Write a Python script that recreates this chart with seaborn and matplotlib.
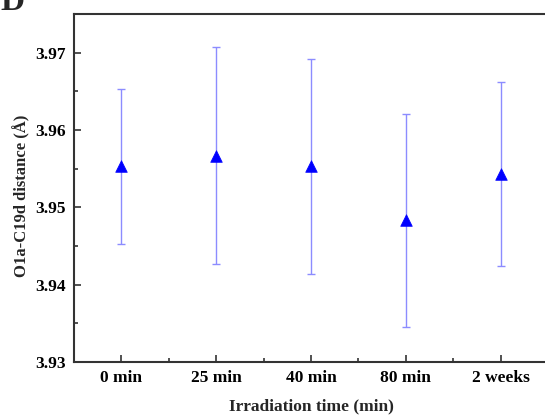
import matplotlib
matplotlib.use("Agg")
import matplotlib.pyplot as plt
import seaborn as sns
import pandas as pd
from matplotlib.ticker import MultipleLocator

categories = ["0 min", "25 min", "40 min", "80 min", "2 weeks"]
distance = [3.9553, 3.9567, 3.9553, 3.9483, 3.9543]
err = [0.0100, 0.0140, 0.0139, 0.0138, 0.0119]

sns.set_theme(style="ticks")
plt.rcParams['font.family'] = ['Liberation Serif', 'DejaVu Serif']
plt.rcParams['font.weight'] = 'bold'

df = pd.DataFrame({"time": categories, "dist": distance, "err": err})

fig = plt.figure(figsize=(5.45, 4.19), dpi=100)
ax = fig.add_axes([74/545, (419-362)/419, (548-74)/545, (362-14)/419])

ax.errorbar(range(len(categories)), df["dist"], yerr=df["err"], fmt="none",
            ecolor="#8c8cff", elinewidth=1.0, capsize=3, capthick=1.0, zorder=2)
sns.scatterplot(data=df, x="time", y="dist", marker="^", s=70, color="#0000ff",
                edgecolor="#0000ff", linewidth=0.5, ax=ax, zorder=3)

fs = 12.5
ax.set_xlim(-0.5, 4.5)
ax.set_ylim(3.93, 3.975)
ax.yaxis.set_major_locator(MultipleLocator(0.01))
ax.yaxis.set_minor_locator(MultipleLocator(0.005))
ax.set_xticks(range(len(categories)))
ax.set_xticks([i + 0.5 for i in range(-1, len(categories))], minor=True)
ax.set_xticklabels(categories, fontsize=fs, fontweight="bold")
ax.yaxis.set_major_formatter(matplotlib.ticker.FormatStrFormatter("%.2f"))
ax.tick_params(axis="y", labelsize=fs)
for lab in ax.get_yticklabels():
    lab.set_fontweight("bold")
ax.tick_params(axis="both", which="major", direction="in", length=5, width=1.2, colors="#333333", labelcolor="black", pad=6)
ax.tick_params(axis="both", which="minor", direction="in", length=3, width=1.2, colors="#333333")
for sp in ax.spines.values():
    sp.set_linewidth(1.5)
    sp.set_color("#333333")

ax.set_xlabel("Irradiation time (min)", fontsize=fs, fontweight="bold", labelpad=9)
ax.set_ylabel("O1a-C19d distance (Å)", fontsize=12, fontweight="bold")
ax.yaxis.set_label_coords(-0.092, 0.477)

fig.text(0.0, 1 - 10/419, "D", fontsize=24, fontweight="bold", ha="left", va="baseline")
fig.text(0.0, 2/419, "E", fontsize=24, fontweight="bold", ha="left", va="top")

fig.savefig("out.png", dpi=100)
